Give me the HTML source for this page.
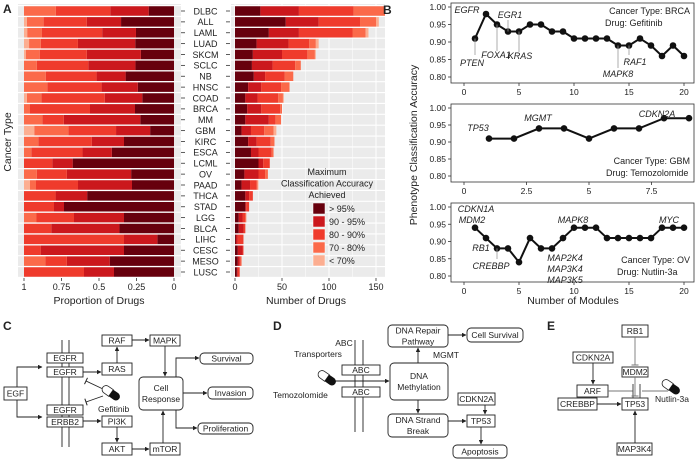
<!DOCTYPE html>
<html><head><meta charset="utf-8">
<style>
html,body{margin:0;padding:0;background:#fff;}
svg{display:block;font-family:"Liberation Sans",Arial,sans-serif;}
</style></head>
<body>
<svg id="fig" width="700" height="464" viewBox="0 0 700 464">
<defs>
<marker id="ah" viewBox="0 0 10 10" refX="9" refY="5" markerWidth="5" markerHeight="5" orient="auto"><path d="M0,0 L10,5 L0,10 z" fill="#222"/></marker>
<clipPath id="clipR"><rect x="231" y="0" width="154" height="290"/></clipPath>
</defs>
<g id="gA"></g>
<g id="gB"></g>
<g id="gC"></g>
<g id="gD"></g>
<g id="gE"></g>
</svg>
<script>
// ---------- Panel A data ----------
const cancerTypes = ["DLBC","ALL","LAML","LUAD","SKCM","SCLC","NB","HNSC","COAD","BRCA","MM","GBM","KIRC","ESCA","LCML","OV","PAAD","THCA","STAD","LGG","BLCA","LIHC","CESC","MESO","LUSC"];
const accGt95 =  [27,54,36,23,19,18,20,14,11,13,11,7,14,17,25,10,7,11,11,4,4,1,3,3,2];
const acc90_95 = [41,35,32,34,31,22,12,14,13,15,25,10,9,8,5,15,9,4,1,4,5,2,5,2,1];
const acc80_90 = [58,44,57,22,27,24,21,21,22,20,7,14,15,14,7,7,7,4,3,3,2,6,1,1,2];
const acc70_80 = [34,17,14,7,8,6,9,9,5,2,6,10,4,2,0,3,1,0,0,1,0,0,0,1,0];
const accLt70 =  [0,3,3,3,1,0,0,0,1,0,0,3,0,0,0,0,1,0,0,0,0,0,0,0,0];
const legendLabels = ["> 95%","90 - 95%","80 - 90%","70 - 80%","< 70%"];
const propTicks = [1,0.75,0.5,0.25,0];
const countTicks = [0,50,100,150];
// ---------- Panel B data ----------
const brcaModules = [1,2,3,4,5,6,7,8,9,10,11,12,13,14,15,16,17,18,19,20];
const brcaAcc = [0.91,0.98,0.95,0.93,0.93,0.95,0.95,0.93,0.93,0.91,0.91,0.91,0.91,0.89,0.89,0.91,0.89,0.86,0.89,0.86];
const gbmModules = [1,2,3,4,5,6,7,8,9];
const gbmAcc = [0.91,0.91,0.94,0.94,0.91,0.94,0.94,0.97,0.97];
const ovModules = [1,2,3,4,5,6,7,8,9,10,11,12,13,14,15,16,17,18,19,20];
const ovAcc = [0.94,0.91,0.88,0.88,0.84,0.91,0.88,0.88,0.91,0.94,0.94,0.94,0.91,0.91,0.91,0.91,0.91,0.94,0.94,0.94];
const yTicksB = [0.80,0.85,0.90,0.95,1.00];

const NS="http://www.w3.org/2000/svg";
function mk(parent,tag,attrs){const e=document.createElementNS(NS,tag);for(const k in attrs)e.setAttribute(k,attrs[k]);parent.appendChild(e);return e;}
function txt(parent,x,y,s,size,anchor,extra){const t=mk(parent,"text",Object.assign({x:x,y:y,"font-size":size,"text-anchor":anchor||"start",fill:"#222"},extra||{}));t.textContent=s;return t;}

const colors=["#67000d","#cb181d","#ef3b2c","#fb6a4a","#fcae91"];
const series=[accGt95,acc90_95,acc80_90,acc70_80,accLt70];

// ---------- Panel A ----------
const gA=document.getElementById("gA");
let t=txt(gA,3,13,"A",12,"start",{"font-weight":"bold"});


const rowY=i=>11+i*10.875;
const xL=p=>174-150*p;
const xR=n=>235+0.94*n;
// backgrounds
let bgL=mk(gA,"rect",{x:18,y:4,width:163,height:274,fill:"#ebebeb"});


let bgR=mk(gA,"rect",{x:231,y:4,width:154,height:274,fill:"#ebebeb"});


for(let i=0;i<=25;i++){
  const y=rowY(i)-5.44;
  mk(gA,"line",{x1:18,x2:181,y1:y,y2:y,stroke:"#fff","stroke-width":1.2});
  mk(gA,"line",{x1:231,x2:385,y1:y,y2:y,stroke:"#fff","stroke-width":1.2});
}
for(let v=0;v<=175;v+=25){const x=xR(v);if(x<385)mk(gA,"line",{x1:x,x2:x,y1:4,y2:278,stroke:"#fff","stroke-width":v%50===0?1:0.5});}
const gRc=mk(gA,"g",{"clip-path":"url(#clipR)"});
cancerTypes.forEach((c,i)=>{
  const tot=series.reduce((s,a)=>s+a[i],0);
  let cum=0;
  series.forEach((arr,k)=>{
    const v=arr[i]; if(v<=0){return;}
    const p0=cum/tot,p1=(cum+v)/tot;
    const r=mk(gA,"rect",{x:xL(p1),y:rowY(i)-4.75,width:xL(p0)-xL(p1),height:9.5,fill:colors[k]});
    
    
    const r2=mk(gRc,"rect",{x:xR(cum),y:rowY(i)-4.75,width:xR(cum+v)-xR(cum),height:9.5,fill:colors[k]});
    
    
    cum+=v;
  });
  mk(gA,"line",{x1:181,x2:185,y1:rowY(i),y2:rowY(i),stroke:"#333","stroke-width":0.8});
  mk(gA,"line",{x1:226,x2:230,y1:rowY(i),y2:rowY(i),stroke:"#333","stroke-width":0.8});
  const l=txt(gA,205.5,rowY(i)+3.3,c,9,"middle");
  
  
});
propTicks.forEach(p=>{
  mk(gA,"line",{x1:xL(p),x2:xL(p),y1:278,y2:281,stroke:"#333","stroke-width":0.8});
  const l=txt(gA,xL(p),290,String(p),9,"middle");
  
  
});
countTicks.forEach(v=>{
  mk(gA,"line",{x1:xR(v),x2:xR(v),y1:278,y2:281,stroke:"#333","stroke-width":0.8});
  const l=txt(gA,xR(v),290,String(v),9,"middle");
  
  
});
t=txt(gA,99,304,"Proportion of Drugs",10.5,"middle");


t=txt(gA,306,304,"Number of Drugs",10.5,"middle");


t=txt(gA,11,142,"Cancer Type",10.5,"middle",{transform:"rotate(-90 11 142)"});


// legend
const lg=mk(gA,"g",{});


["Maximum","Classification Accuracy","Achieved"].forEach((s,j)=>txt(lg,327,175+j*11.5,s,9,"middle"));
legendLabels.forEach((s,k)=>{
  const y=203+k*13;
  const r=mk(lg,"rect",{x:313,y:y,width:12,height:11,fill:colors[k],stroke:"#fff","stroke-width":0.5});
  
  
  const l=txt(lg,329,y+9,s,9,"start");
  
  
});

// ---------- Panel B ----------
const gB=document.getElementById("gB");
t=txt(gB,383,14,"B",12,"start",{"font-weight":"bold"});


function subplot(name,top,bottom,xmin,xmax,x0,x1,xticks,xs,ys){
  const g=mk(gB,"g",{});
  
  
  const yS=v=>bottom-(v-0.80)/0.20*(bottom-top);
  const xS=v=>x0+(v-xmin)/(xmax-xmin)*(x1-x0);
  mk(g,"rect",{x:451,y:top-4,width:243,height:bottom-top+10,fill:"none",stroke:"#333","stroke-width":0.8});
  yTicksB.forEach(v=>{
    mk(g,"line",{x1:448,x2:451,y1:yS(v),y2:yS(v),stroke:"#333","stroke-width":0.8});
    txt(g,446,yS(v)+3,v.toFixed(2),8.5,"end");
  });
  xticks.forEach(v=>{
    const by=bottom+6;
    mk(g,"line",{x1:xS(v),x2:xS(v),y1:by,y2:by+3,stroke:"#333","stroke-width":0.8});
    txt(g,xS(v),by+12,String(v),8.5,"middle");
  });
  let d="";xs.forEach((v,i)=>{d+=(i?"L":"M")+xS(v)+","+yS(ys[i]);});
  const p=mk(g,"path",{d:d,fill:"none",stroke:"#111","stroke-width":2});
  
  
  xs.forEach((v,i)=>{
    const c=mk(g,"circle",{cx:xS(v),cy:yS(ys[i]),r:3.3,fill:"#111"});
    
    
  });
  return {g,xS,yS};
}
const s1=subplot("brca-gefitinib-plot",7,77,0,20,464,684,[0,5,10,15,20],brcaModules,brcaAcc);
const s2=subplot("gbm-temozolomide-plot",108,176,0,9,464,689,[0,2.5,5,7.5],gbmModules,gbmAcc);
const s3=subplot("ov-nutlin-plot",207,276,0,20,464,684,[0,5,10,15,20],ovModules,ovAcc);
const it={"font-style":"italic"};
function ann(g,x,y,s,anchor){const a=txt(g,x,y,s,9,anchor||"middle",it);}
function lead(g,x,y1,y2){mk(g,"line",{x1:x,x2:x,y1:y1,y2:y2,stroke:"#999","stroke-width":0.8});}
// top
ann(s1.g,467,13,"EGFR");
lead(s1.g,s1.xS(1),s1.yS(0.91),55);ann(s1.g,472,66,"PTEN");
lead(s1.g,s1.xS(3),s1.yS(0.95),51);ann(s1.g,496,58,"FOXA1");
lead(s1.g,s1.xS(4),s1.yS(0.93),20);ann(s1.g,510,18,"EGR1");
lead(s1.g,s1.xS(5),s1.yS(0.93),52);ann(s1.g,520,59,"KRAS");
lead(s1.g,s1.xS(14),s1.yS(0.89),68);ann(s1.g,618,77,"MAPK8");
lead(s1.g,s1.xS(15),s1.yS(0.89),55);ann(s1.g,635,65,"RAF1");
txt(s1.g,690,14,"Cancer Type: BRCA",9,"end");txt(s1.g,605,26,"Drug: Gefitinib",9,"start");
// mid
ann(s2.g,478,131,"TP53");ann(s2.g,538,121,"MGMT");ann(s2.g,657,117,"CDKN2A");
txt(s2.g,690,164,"Cancer Type: GBM",9,"end");txt(s2.g,606,176,"Drug: Temozolomide",9,"start");
// bottom
ann(s3.g,476,212,"CDKN1A");ann(s3.g,472,223,"MDM2");ann(s3.g,481,251,"RB1");
lead(s3.g,s3.xS(3),s3.yS(0.88),259);ann(s3.g,491,269,"CREBBP");
ann(s3.g,573,223,"MAPK8");ann(s3.g,565,261,"MAP2K4");ann(s3.g,565,272,"MAP3K4");ann(s3.g,565,283,"MAP3K5");
ann(s3.g,669,223,"MYC");
txt(s3.g,690,263,"Cancer Type: OV",9,"end");txt(s3.g,617,275,"Drug: Nutlin-3a",9,"start");
t=txt(gB,573,304,"Number of Modules",10.5,"middle");


t=txt(gB,417,145,"Phenotype Classification Accuracy",10.5,"middle",{transform:"rotate(-90 417 145)"});



// ---------- Diagrams ----------
function box(g,x,y,w,h,label,name,rounded){
  const gg=mk(g,"g",{});
  
  
  mk(gg,"rect",{x:x,y:y,width:w,height:h,rx:rounded?4:0,fill:"#fff",stroke:"#222","stroke-width":0.9});
  const lines=label.split("\n");
  lines.forEach((s,j)=>txt(gg,x+w/2,y+h/2+3.2+(j-(lines.length-1)/2)*11,s,8.5,"middle"));
}
function arrow(g,pts){let d="";pts.forEach((p,i)=>{d+=(i?"L":"M")+p[0]+","+p[1];});mk(g,"path",{d:d,fill:"none",stroke:"#222","stroke-width":0.9,"marker-end":"url(#ah)"});}
function inhib(g,x1,y1,x2,y2,color){
  mk(g,"line",{x1:x1,y1:y1,x2:x2,y2:y2,stroke:color||"#222","stroke-width":0.9});
  const dx=x2-x1,dy=y2-y1,L=Math.hypot(dx,dy),nx=-dy/L*3.5,ny=dx/L*3.5;
  mk(g,"line",{x1:x2+nx,y1:y2+ny,x2:x2-nx,y2:y2-ny,stroke:color||"#222","stroke-width":1});
}
function pill(g,cx,cy,name){
  const p=mk(g,"g",{transform:"translate("+cx+","+cy+") rotate(35)"});
  
  
  mk(p,"path",{d:"M0,-4 L-6,-4 A4,4 0 0 0 -6,4 L0,4 z",fill:"#fff",stroke:"#222","stroke-width":0.8});
  mk(p,"path",{d:"M0,-4 L6,-4 A4,4 0 0 1 6,4 L0,4 z",fill:"#111"});
}
// C
const gC=document.getElementById("gC");
txt(gC,3,330,"C",12,"start",{"font-weight":"bold"});
mk(gC,"line",{x1:62,x2:62,y1:340,y2:447,stroke:"#222","stroke-width":0.9});
mk(gC,"line",{x1:69,x2:69,y1:340,y2:447,stroke:"#222","stroke-width":0.9});
box(gC,47,353,36,10,"EGFR","egfr-box-1");
box(gC,47,367,36,10,"EGFR","egfr-box-2");
box(gC,47,405,36,10,"EGFR","egfr-box-3");
box(gC,47,417,36,10,"ERBB2","erbb2-box");
box(gC,4,387,23,13,"EGF","egf-box");
box(gC,102,335,30,11,"RAF","raf-box");
box(gC,150,335,30,11,"MAPK","mapk-box");
box(gC,102,363,30,12,"RAS","ras-box");
box(gC,102,416,30,11,"PI3K","pi3k-box");
box(gC,102,443,30,12,"AKT","akt-box");
box(gC,150,443,30,12,"mTOR","mtor-box");
box(gC,139,377,44,33,"Cell\nResponse","cell-response-box",true);
box(gC,200,353,53,11,"Survival","survival-box",true);
box(gC,208,387,45,12,"Invasion","invasion-box",true);
box(gC,198,423,55,11,"Proliferation","proliferation-box",true);
arrow(gC,[[17,387],[17,367],[42,367]]);
arrow(gC,[[17,400],[17,417],[42,417]]);
arrow(gC,[[83,372],[101,372]]);
arrow(gC,[[117,363],[117,347]]);
arrow(gC,[[132,340],[149,340]]);
arrow(gC,[[165,346],[165,376]]);
arrow(gC,[[83,421],[101,421]]);
arrow(gC,[[117,427],[117,442]]);
arrow(gC,[[132,449],[149,449]]);
arrow(gC,[[163,443],[163,411]]);
arrow(gC,[[176,377],[176,358],[199,358]]);
arrow(gC,[[183,393],[207,393]]);
arrow(gC,[[176,410],[176,428],[197,428]]);
inhib(gC,103,389,86,381);inhib(gC,103,396,86,402);
pill(gC,111,393,"gefitinib-pill");
txt(gC,98,412,"Gefitinib",8.5,"start");
// D
const gD=document.getElementById("gD");
txt(gD,273,330,"D",12,"start",{"font-weight":"bold"});
mk(gD,"line",{x1:355,x2:355,y1:340,y2:432,stroke:"#222","stroke-width":0.9});
mk(gD,"line",{x1:363,x2:363,y1:340,y2:432,stroke:"#222","stroke-width":0.9});
txt(gD,344,346,"ABC",8.5,"middle");txt(gD,318,357,"Transporters",8.5,"middle");
box(gD,342,365,38,10,"ABC","abc-box-1");
box(gD,342,387,38,10,"ABC","abc-box-2");
box(gD,390,363,58,37,"DNA\nMethylation","dna-methylation-box",true);
box(gD,388,325,60,22,"DNA Repair\nPathway","dna-repair-box",true);
box(gD,467,328,56,14,"Cell Survival","cell-survival-box",true);
box(gD,388,414,60,23,"DNA Strand\nBreak","dna-strand-break-box",true);
box(gD,458,393,37,12,"CDKN2A","cdkn2a-box-d");
box(gD,467,415,28,12,"TP53","tp53-box-d");
box(gD,453,445,54,13,"Apoptosis","apoptosis-box",true);
txt(gD,433,358,"MGMT",8.5,"start");
arrow(gD,[[334,381],[389,381]]);
arrow(gD,[[418,363],[418,348]]);
arrow(gD,[[448,335],[466,335]]);
arrow(gD,[[418,400],[418,413]]);
arrow(gD,[[448,421],[466,421]]);
arrow(gD,[[485,405],[485,414]]);
arrow(gD,[[481,427],[481,444]]);
pill(gD,327,378,"temozolomide-pill");
txt(gD,273,398,"Temozolomide",8.5,"start");
// E
const gE=document.getElementById("gE");
txt(gE,547,330,"E",12,"start",{"font-weight":"bold"});
box(gE,622,325,26,12,"RB1","rb1-box");
box(gE,573,352,40,11,"CDKN2A","cdkn2a-box-e");
box(gE,622,367,26,10,"MDM2","mdm2-box");
box(gE,577,385,31,12,"ARF","arf-box");
box(gE,622,398,26,12,"TP53","tp53-box-e");
box(gE,558,398,39,12,"CREBBP","crebbp-box");
box(gE,617,443,35,12,"MAP3K4","map3k4-box");
inhib(gE,635,337,635,365,"#777");
arrow(gE,[[593,363],[593,384]]);
mk(gE,"line",{x1:608,y1:391,x2:633,y2:391,stroke:"#777","stroke-width":0.9});
mk(gE,"line",{x1:642,y1:391,x2:668,y2:391,stroke:"#777","stroke-width":0.9});
mk(gE,"line",{x1:633,y1:384,x2:633,y2:398,stroke:"#444","stroke-width":1});
mk(gE,"line",{x1:640,y1:384,x2:640,y2:398,stroke:"#444","stroke-width":1});
inhib(gE,635,377,635,396,"#777");
arrow(gE,[[597,404],[621,404]]);
arrow(gE,[[635,443],[635,411]]);
pill(gE,671,387,"nutlin-pill");
txt(gE,655,402,"Nutlin-3a",8.5,"start");
</script>
</body></html>
